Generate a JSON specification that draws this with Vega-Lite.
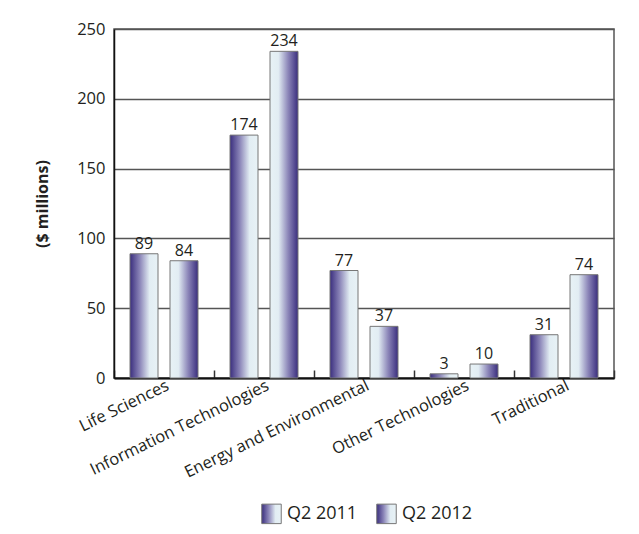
{
  "$schema": "https://vega.github.io/schema/vega-lite/v6.json",
  "autosize": {"type": "none"},
  "width": 500,
  "height": 349,
  "padding": {"left": 114, "top": 29, "right": 25, "bottom": 156},
  "background": "white",
  "data": {
    "values": [
      {"category": "Life Sciences", "period": "Q2 2011", "value": 89},
      {"category": "Life Sciences", "period": "Q2 2012", "value": 84},
      {"category": "Information Technologies", "period": "Q2 2011", "value": 174},
      {"category": "Information Technologies", "period": "Q2 2012", "value": 234},
      {"category": "Energy and Environmental", "period": "Q2 2011", "value": 77},
      {"category": "Energy and Environmental", "period": "Q2 2012", "value": 37},
      {"category": "Other Technologies", "period": "Q2 2011", "value": 3},
      {"category": "Other Technologies", "period": "Q2 2012", "value": 10},
      {"category": "Traditional", "period": "Q2 2011", "value": 31},
      {"category": "Traditional", "period": "Q2 2012", "value": 74}
    ]
  },
  "encoding": {
    "x": {
      "field": "category", "type": "nominal", "sort": null,
      "scale": {"paddingInner": 0, "paddingOuter": 0},
      "axis": {
        "title": null, "labelAngle": -26, "labelAlign": "right", "labelBaseline": "top",
        "labelFontSize": 16.5, "labelColor": "#231f20", "labelPadding": 7, "labelLimit": 400,
        "domainColor": "#111", "domainWidth": 2,
        "ticks": true, "tickBand": "extent", "tickSize": -8, "tickColor": "#333", "tickWidth": 1.5
      }
    },
    "xOffset": {"field": "period", "type": "nominal", "scale": {"domain": ["Q2 2011", "Q2 2012"], "paddingInner": 0.3, "paddingOuter": 0.4}},
    "y": {
      "field": "value", "type": "quantitative",
      "scale": {"domain": [0, 250]},
      "axis": {
        "title": "($ millions)", "titleFontSize": 16, "titleFontWeight": "bold", "titleColor": "#231f20",
        "titlePadding": 26,
        "values": [0, 50, 100, 150, 200, 250], "labelFontSize": 16.5, "labelColor": "#231f20",
        "labelPadding": 9, "ticks": false, "domainColor": "#111", "domainWidth": 1.5,
        "grid": true, "gridColor": "#555", "gridWidth": 1.5
      }
    }
  },
  "layer": [
    {
      "transform": [{"filter": "datum.period === 'Q2 2011'"}],
      "mark": {
        "type": "bar", "strokeWidth": 1,
        "fill": {"gradient": "linear", "x1": 0, "x2": 1, "y1": 0, "y2": 0, "stops": [
          {"offset": 0, "color": "#3a2e7e"},
          {"offset": 0.35, "color": "#8b85b8"},
          {"offset": 0.7, "color": "#e2edf3"},
          {"offset": 1, "color": "#e8f2f6"}
        ]}
      },
      "encoding": {
        "stroke": {
          "field": "period", "type": "nominal",
          "scale": {"domain": ["Q2 2011", "Q2 2012"], "range": ["#777777", "#777777"]},
          "legend": {
            "title": null, "orient": "none", "direction": "horizontal",
            "legendX": 147, "legendY": 474,
            "symbolType": "square", "symbolSize": 380, "symbolStrokeWidth": 1,
            "labelFontSize": 18, "labelColor": "#231f20", "labelOffset": 5, "columnPadding": 16,
            "encode": {
              "symbols": {
                "update": {
                  "fill": {"signal": "datum.value === 'Q2 2011' ? {gradient: 'linear', x1: 0, x2: 1, y1: 0, y2: 0, stops: [{offset: 0, color: '#3a2e7e'}, {offset: 0.35, color: '#8b85b8'}, {offset: 0.7, color: '#e2edf3'}, {offset: 1, color: '#e8f2f6'}]} : {gradient: 'linear', x1: 0, x2: 1, y1: 0, y2: 0, stops: [{offset: 0, color: '#e8f2f6'}, {offset: 0.3, color: '#e2edf3'}, {offset: 0.65, color: '#8b85b8'}, {offset: 1, color: '#3a2e7e'}]}"},
                  "fillOpacity": {"value": 1}
                }
              }
            }
          }
        }
      }
    },
    {
      "transform": [{"filter": "datum.period === 'Q2 2012'"}],
      "mark": {
        "type": "bar", "strokeWidth": 1,
        "fill": {"gradient": "linear", "x1": 0, "x2": 1, "y1": 0, "y2": 0, "stops": [
          {"offset": 0, "color": "#e8f2f6"},
          {"offset": 0.3, "color": "#e2edf3"},
          {"offset": 0.65, "color": "#8b85b8"},
          {"offset": 1, "color": "#3a2e7e"}
        ]}
      },
      "encoding": {
        "stroke": {"field": "period", "type": "nominal"}
      }
    },
    {
      "mark": {"type": "text", "baseline": "bottom", "dy": -2, "fontSize": 16, "color": "#231f20"},
      "encoding": {"text": {"field": "value", "type": "quantitative"}}
    }
  ],
  "config": {
    "font": "Open Sans",
    "view": {"stroke": "#555", "strokeWidth": 1.5}
  }
}
